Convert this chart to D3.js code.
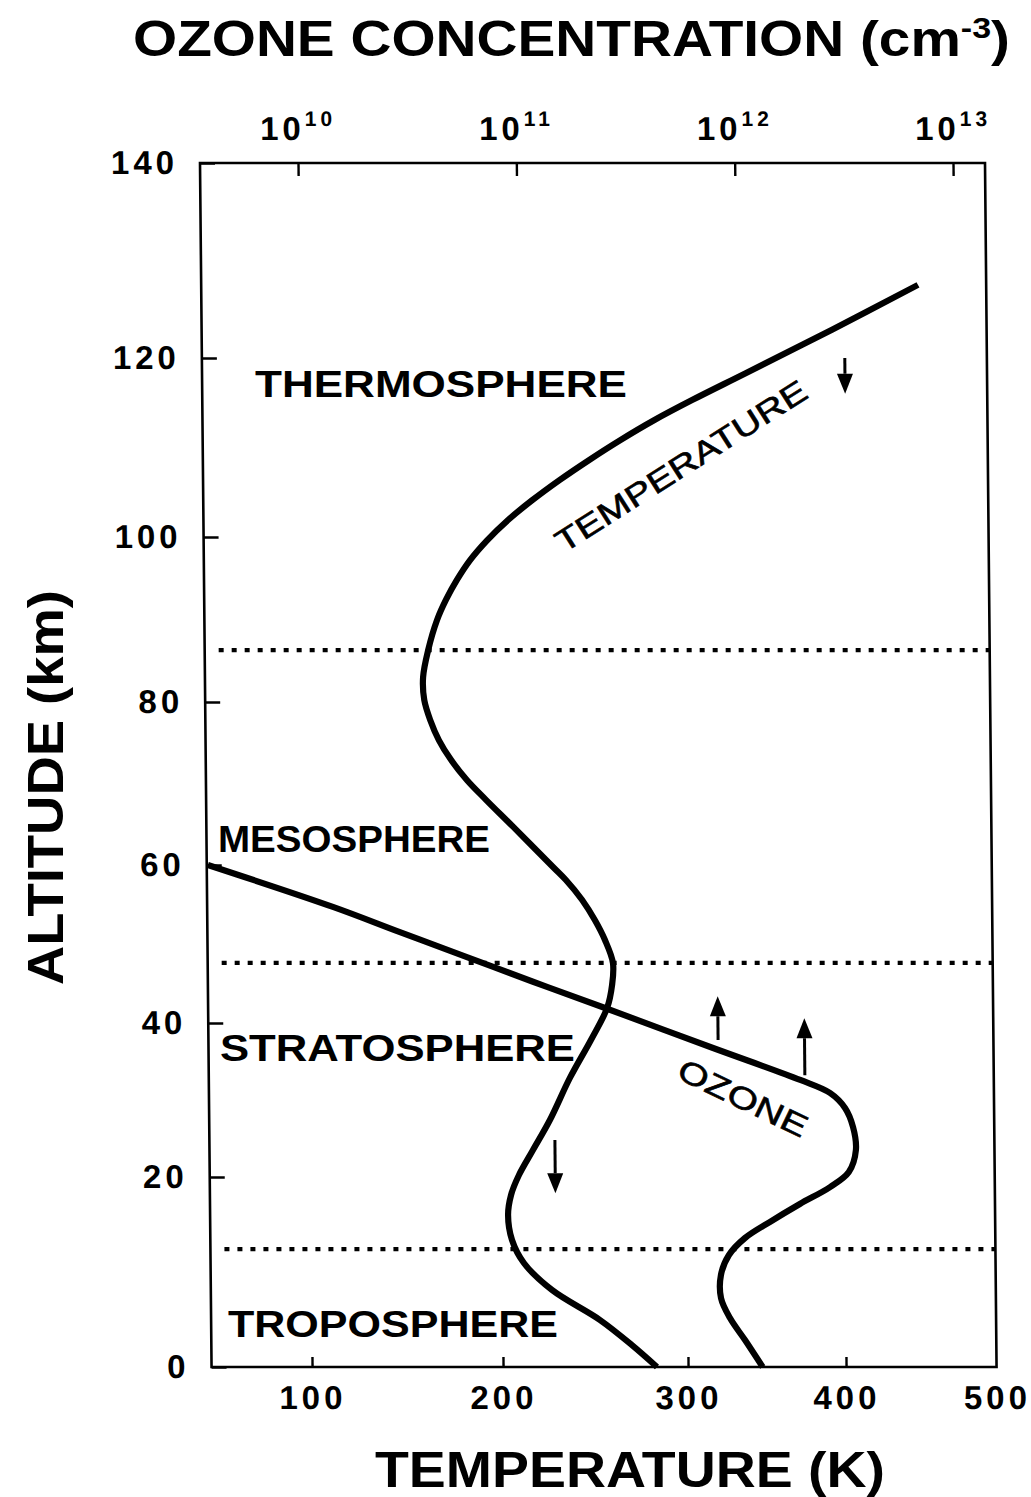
<!DOCTYPE html>
<html><head><meta charset="utf-8">
<script src="https://cdn.jsdelivr.net/npm/d3@7"></script>
<style>
html,body{margin:0;padding:0;background:#fff;}
svg{display:block;}
</style></head>
<body><svg id="chart" width="1031" height="1497"></svg>
<script>
// ---------------- DATA ----------------
const altitudeTicks = [0, 20, 40, 60, 80, 100, 120, 140];          // km
const temperatureTicks = [100, 200, 300, 400, 500];                 // K
const ozoneTicks = [1e10, 1e11, 1e12, 1e13];                        // cm^-3
const ozoneTickBase = ["10", "10", "10", "10"];
const ozoneTickExp = ["10", "11", "12", "13"];

// Temperature profile (altitude km, temperature K)
const tempAltitude = [0, 2.3, 4.95, 8.1, 10.95, 13.37, 16.0, 18.1, 20.26, 23.5, 27.4, 32.9, 37.8,
  41.9, 44.8, 47.6, 50.5, 53.0, 55.6, 58.1, 59.75, 64.7, 68.0, 70.4, 72.9, 75.3, 77.8, 80.24, 83.0,
  86.3, 89.94, 92.4, 94.8, 97.2, 99.6, 101.9, 104.1, 106.4, 108.6, 110.8, 113.1, 115.3, 118.3, 122.9, 127.5];
const tempValues = [283.2, 269.8, 252.6, 226.9, 211.8, 205.5, 203.5, 205.2, 209.6, 217.3, 226.6, 237.7, 249.2,
  258.1, 260.9, 261.5, 257.3, 252.0, 245.1, 236.5, 229.6, 208.2, 193.9, 184.1, 175.8, 169.6, 165.1, 162.1, 161.6,
  164.4, 169.2, 174.0, 179.8, 186.8, 195.8, 207.1, 220.2, 235.4, 251.2, 268.0, 287.0, 308.4, 342.5, 397.4, 454.7];

// Ozone profile (altitude km, concentration cm^-3)
const ozoneAltitude = [60, 54.7, 51.5, 48.35, 45.25, 41.9, 36.75, 32.6, 30.9, 28.96, 26.5, 23.5, 20.65,
  18.95, 17.16, 15.26, 13.58, 11.79, 9.68, 7.26, 5.16, 2.84, 0];
const ozoneValues = [3.6e9, 1.34e10, 2.71e10, 5.48e10, 1.09e11, 2.34e11, 7.28e11, 1.82e12, 2.49e12, 2.91e12,
  3.16e12, 3.25e12, 3.01e12, 2.47e12, 1.79e12, 1.30e12, 1.0e12, 8.43e11, 7.73e11, 7.72e11, 8.47e11, 9.9e11, 1.19e12];

// Layer boundaries (km)
const boundaryAltitudes = [12.4, 47.6, 86.3];
const layerNames = ["THERMOSPHERE", "MESOSPHERE", "STRATOSPHERE", "TROPOSPHERE"];

// Arrows: temperature position (K), from altitude, to altitude (km)
const arrowTemp = [405.6, 229.2, 321, 375.7];
const arrowFrom = [120.0, 24.8, 37.8, 33.2];
const arrowTo = [116.0, 18.3, 43.4, 40.6];

// ---------------- LAYOUT ----------------
const svg = d3.select("#chart");
const FONT = "'Liberation Sans', Arial, Helvetica, sans-serif";
const NARROW = "'Liberation Sans Narrow', 'Liberation Sans', Arial, sans-serif";
const SKEW = 0.0096, TOPY = 163;

// scales (calibrated to the scanned figure's tick marks)
const y = d3.scaleLinear().domain(altitudeTicks).range([1367, 1177, 1023, 865, 702, 537, 358, 163]);
const x = d3.scaleLinear().domain([47, 100, 200, 300, 400, 500]).range([200, 300.5, 491.5, 676.5, 834.5, 985]);
const xo = d3.scaleLog().domain([1e10, 1e13]).range([298, 953]);

const g = svg.append("g").attr("transform", `matrix(1,0,${SKEW},1,${-SKEW * TOPY},0)`);

const x0 = x.range()[0], x1 = x.range()[x.range().length - 1];
const yTop = y(140), yBot = y(0);

// frame
g.append("rect").attr("x", x0).attr("y", yTop).attr("width", x1 - x0).attr("height", yBot - yTop)
  .attr("fill", "none").attr("stroke", "#000").attr("stroke-width", 2.6);

// left axis
const ax = g.append("g").attr("transform", `translate(${x0},0)`)
  .call(d3.axisLeft(y).tickValues(altitudeTicks).tickSize(-15).tickPadding(22).tickFormat(d3.format("d")));
// bottom axis
const bx = g.append("g").attr("transform", `translate(0,${yBot})`)
  .call(d3.axisBottom(x).tickValues(temperatureTicks).tickSize(-10).tickPadding(19).tickFormat(d3.format("d")));
// top axis (ozone)
const tx = g.append("g").attr("transform", `translate(0,${yTop})`)
  .call(d3.axisTop(xo).tickValues(ozoneTicks).tickSize(-13).tickPadding(23));
tx.selectAll(".tick text").each(function (d, i) {
  const t = d3.select(this).text(null);
  t.append("tspan").text(ozoneTickBase[i]);
  t.append("tspan").attr("dy", -14).attr("font-size", 21).text(ozoneTickExp[i]);
});

[ax, bx, tx].forEach(a => {
  a.select(".domain").remove();
  a.selectAll(".tick line").attr("stroke", "#000").attr("stroke-width", 2.4);
  a.selectAll(".tick text").attr("fill", "#000").attr("font-family", FONT)
    .attr("font-weight", "bold").attr("font-size", 33).attr("letter-spacing", 4);
});
bx.selectAll(".tick").filter(d => d === 500).select("line").remove();

// boundary dotted lines
g.selectAll(".boundary").data(boundaryAltitudes).join("line")
  .attr("x1", x0 + 14).attr("x2", x1)
  .attr("y1", d => y(d)).attr("y2", d => y(d))
  .attr("stroke", "#000").attr("stroke-width", 4.2).attr("stroke-dasharray", "5 8");

// curves
const tempData = tempAltitude.map((a, i) => ({ alt: a, v: tempValues[i] }));
const ozoneData = ozoneAltitude.map((a, i) => ({ alt: a, v: ozoneValues[i] }));

g.append("path").datum(tempData)
  .attr("d", d3.line().x(d => x(d.v)).y(d => y(d.alt)).curve(d3.curveCatmullRom.alpha(0.5)))
  .attr("fill", "none").attr("stroke", "#000").attr("stroke-width", 6.2).attr("stroke-linecap", "butt");

g.append("path").datum(ozoneData)
  .attr("d", d3.line().x(d => xo(d.v)).y(d => y(d.alt)).curve(d3.curveCatmullRom.alpha(0.5)))
  .attr("fill", "none").attr("stroke", "#000").attr("stroke-width", 6.2).attr("stroke-linecap", "butt");

// arrows
arrowTemp.forEach((t, i) => {
  const ax_ = x(t), ya = y(arrowFrom[i]), yb = y(arrowTo[i]);
  const dir = yb > ya ? 1 : -1;
  const headLen = 20, headW = 8;
  g.append("line").attr("x1", ax_).attr("x2", ax_).attr("y1", ya).attr("y2", yb - dir * headLen)
    .attr("stroke", "#000").attr("stroke-width", 3);
  g.append("path")
    .attr("d", `M${ax_},${yb}L${ax_ - headW},${yb - dir * headLen}L${ax_ + headW},${yb - dir * headLen}Z`)
    .attr("fill", "#000");
});

// ---------------- TEXT ----------------
const layerPos = [[255, 397, 372], [218, 852, 272], [220, 1061, 355], [228, 1337, 330]];
layerNames.forEach((n, i) => {
  svg.append("text").attr("x", layerPos[i][0]).attr("y", layerPos[i][1])
    .attr("textLength", layerPos[i][2]).attr("lengthAdjust", "spacingAndGlyphs")
    .attr("font-family", FONT).attr("font-weight", "bold").attr("font-size", 36).text(n);
});

// curve labels
svg.append("text").attr("transform", "translate(681,466) rotate(-32.5)")
  .attr("text-anchor", "middle").attr("dy", "0.35em")
  .attr("font-family", FONT).attr("font-size", 31).attr("textLength", 292).attr("lengthAdjust", "spacingAndGlyphs")
  .attr("stroke", "#000").attr("stroke-width", 0.6)
  .text("TEMPERATURE");
svg.append("text").attr("transform", "translate(743,1098) rotate(25.6)")
  .attr("text-anchor", "middle").attr("dy", "0.35em")
  .attr("font-family", FONT).attr("font-size", 31).attr("textLength", 140).attr("lengthAdjust", "spacingAndGlyphs")
  .attr("stroke", "#000").attr("stroke-width", 0.6)
  .text("OZONE");

// titles
const topTitle = svg.append("text").attr("x", 133).attr("y", 56)
  .attr("font-family", NARROW).attr("font-weight", "bold").attr("font-size", 50)
  .attr("textLength", 877).attr("lengthAdjust", "spacingAndGlyphs");
topTitle.append("tspan").text("OZONE CONCENTRATION (cm");
topTitle.append("tspan").attr("dy", -18).attr("font-size", 30).text("-3");
topTitle.append("tspan").attr("dy", 18).text(")");

svg.append("text").attr("x", 375).attr("y", 1487)
  .attr("font-family", FONT).attr("font-weight", "bold").attr("font-size", 50)
  .attr("textLength", 510).attr("lengthAdjust", "spacingAndGlyphs").text("TEMPERATURE (K)");

svg.append("text").attr("transform", "translate(63,985) rotate(-90)")
  .attr("font-family", FONT).attr("font-weight", "bold").attr("font-size", 50)
  .attr("textLength", 395).attr("lengthAdjust", "spacingAndGlyphs").text("ALTITUDE (km)");
</script>
</body></html>
